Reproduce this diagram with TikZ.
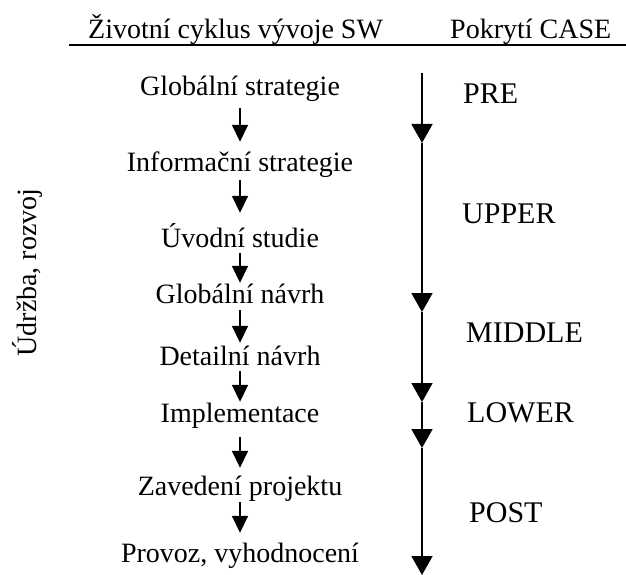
\documentclass[tikz,border=0pt]{standalone}
\usepackage{fontspec}
\setmainfont{Liberation Serif}
\usetikzlibrary{arrows.meta}
\begin{document}
\begin{tikzpicture}[x=1pt,y=-1pt,
  txt/.style={inner sep=0pt, font=\fontsize{28}{30}\selectfont},
  stage/.style={txt, anchor=base, text height=20pt, text depth=6pt},
  phase/.style={inner sep=0pt, anchor=base west, font=\fontsize{30}{32}\selectfont},
  flow/.style={line width=1.6pt, -{Triangle[width=16pt,length=17pt]}},
  casearrow/.style={line width=1.8pt, -{Triangle[width=21pt,length=19pt]}}]
\useasboundingbox (0,0) rectangle (626,575);

% column headings with the rule beneath them
\node[txt, anchor=base west] (hlife) at (88,39) {Životní cyklus vývoje SW};
\node[txt, anchor=base west] (hcase) at (450,39) {Pokrytí CASE};
\coordinate (ruleL) at (69,45);
\coordinate (ruleR) at (626,45);
\draw[line width=1.6pt] (ruleL) -- (ruleR);

% side caption
\node[txt, anchor=base, rotate=90] (maint) at (36,272.5) {Údržba, rozvoj};

% life cycle stages
\node[stage] (s1) at (240,96)  {Globální strategie};
\node[stage] (s2) at (240,171) {Informační strategie};
\node[stage] (s3) at (240,247) {Úvodní studie};
\node[stage] (s4) at (240,303) {Globální návrh};
\node[stage] (s5) at (240,365) {Detailní návrh};
\node[stage] (s6) at (240,422) {Implementace};
\node[stage] (s7) at (240,495) {Zavedení projektu};
\node[stage] (s8) at (240,562) {Provoz, vyhodnocení};

% arrows between stages
\draw[flow, shorten <=6pt, shorten >=9pt]  (s1.south) -- (s2.north);
\draw[flow, shorten <=3pt, shorten >=14pt] (s2.south) -- (s3.north);
\draw[flow, shorten <=0pt, shorten >=0pt]  (s3.south) -- (s4.north);
\draw[flow, shorten <=1pt, shorten >=2pt]  (s4.south) -- (s5.north);
\draw[flow, shorten <=0pt, shorten >=0pt]  (s5.south) -- (s6.north);
\draw[flow, shorten <=9pt, shorten >=7pt]  (s6.south) -- (s7.north);
\draw[flow, shorten <=1pt, shorten >=9pt]  (s7.south) -- (s8.north);

% CASE coverage axis
\coordinate (c0) at (422,73);
\coordinate (c1) at (422,143);
\coordinate (c2) at (422,312);
\coordinate (c3) at (422,402);
\coordinate (c4) at (422,448);
\coordinate (c5) at (422,575);
\draw[casearrow] (c0) -- (c1);
\draw[casearrow] (c1) -- (c2);
\draw[casearrow] (c2) -- (c3);
\draw[casearrow] (c3) -- (c4);
\draw[casearrow] (c4) -- (c5);

% CASE phases
\node[phase] (pre)    at (463,104) {PRE};
\node[phase] (upper)  at (462,223) {UPPER};
\node[phase] (middle) at (466,342) {MIDDLE};
\node[phase] (lower)  at (467,422) {LOWER};
\node[phase] (post)   at (469,522) {POST};
\end{tikzpicture}
\end{document}
